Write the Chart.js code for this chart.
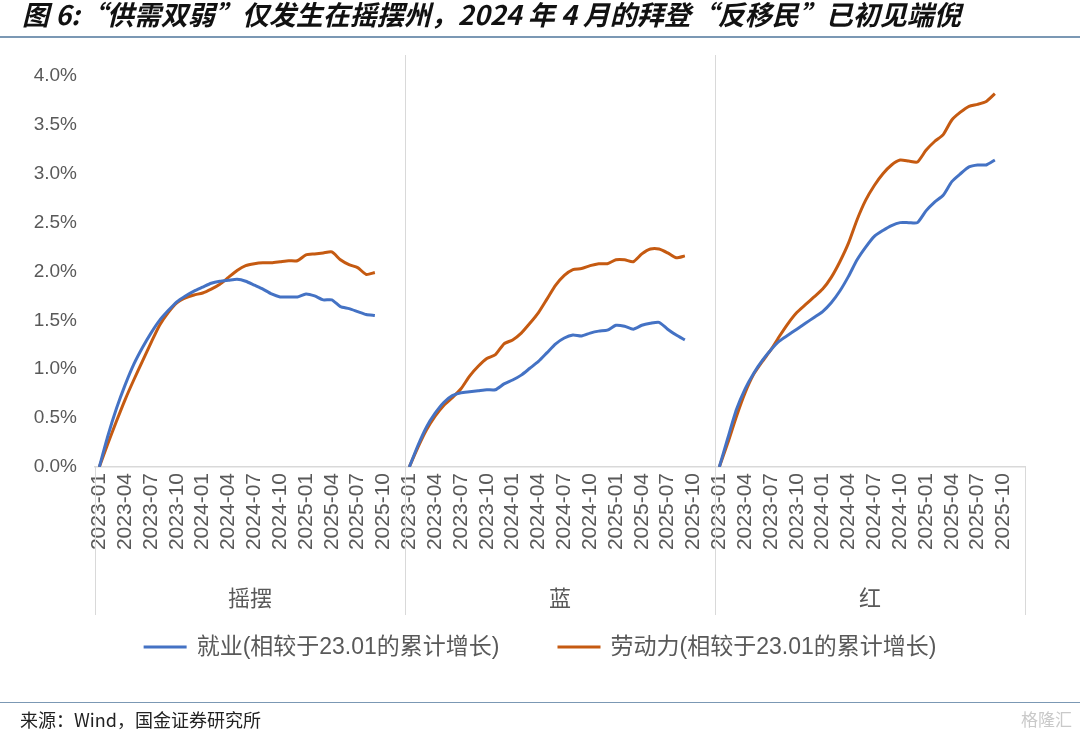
<!DOCTYPE html>
<html>
<head>
<meta charset="utf-8">
<script src="https://cdn.jsdelivr.net/npm/chart.js@4"></script>
<style>
  body { margin: 0; background: #fff; }
  #wrap { position: relative; width: 1080px; height: 733px; overflow: hidden; }
  #chart { position: absolute; left: 0; top: 0; }
  .title { position: absolute; left: 22px; top: 0; line-height: 28px; font: italic bold 27px "Noto Sans CJK SC", sans-serif; color: #111; white-space: nowrap; }
  .rule { position: absolute; left: 0; width: 1080px; height: 0; border-top: 2px solid #7b98b4; }
  .source { position: absolute; left: 20px; top: 706px; font: 18px "Noto Sans CJK SC", sans-serif; color: #222; }
  .mark { position: absolute; right: 8px; top: 706px; font: 17px "Noto Sans CJK SC", sans-serif; color: #c9c9c9; }
</style>
</head>
<body>
<div id="wrap">
  <canvas id="chart" width="1080" height="733"></canvas>
  <div class="title" style="line-height:28px">图 6:“供需双弱”仅发生在摇摆州，2024 年 4 月的拜登“反移民”已初见端倪</div>
  <div class="rule" style="top:36px"></div>
  <div class="rule" style="top:702px; border-top-width:1.5px"></div>
  <div class="source">来源：Wind，国金证券研究所</div>
  <div class="mark">格隆汇</div>
</div>
<script>
// month categories in each state group (2023-01 .. 2025-12)
const months = [
  '2023-01','2023-02','2023-03','2023-04','2023-05','2023-06','2023-07','2023-08','2023-09','2023-10','2023-11','2023-12',
  '2024-01','2024-02','2024-03','2024-04','2024-05','2024-06','2024-07','2024-08','2024-09','2024-10','2024-11','2024-12',
  '2025-01','2025-02','2025-03','2025-04','2025-05','2025-06','2025-07','2025-08','2025-09','2025-10','2025-11','2025-12'
];
const groups = ['摇摆', '蓝', '红'];
const yTicks = [0, 0.5, 1.0, 1.5, 2.0, 2.5, 3.0, 3.5, 4.0];

// cumulative growth vs 2023-01, %  (2023-01 .. 2025-09)
const swingEmp = [0, 0.32, 0.60, 0.84, 1.05, 1.22, 1.37, 1.50, 1.60, 1.69, 1.75, 1.80, 1.84, 1.88, 1.90, 1.91, 1.92,
  1.90, 1.86, 1.82, 1.77, 1.74, 1.74, 1.74, 1.77, 1.75, 1.71, 1.71, 1.64, 1.62, 1.59, 1.56, 1.55];
const swingLab = [0, 0.24, 0.47, 0.69, 0.89, 1.08, 1.27, 1.45, 1.58, 1.68, 1.73, 1.76, 1.78, 1.82, 1.87, 1.94, 2.01,
  2.06, 2.08, 2.09, 2.09, 2.10, 2.11, 2.11, 2.17, 2.18, 2.19, 2.20, 2.12, 2.07, 2.04, 1.97, 1.99];
const blueEmp = [0, 0.22, 0.41, 0.55, 0.66, 0.73, 0.76, 0.77, 0.78, 0.79, 0.79, 0.85, 0.89, 0.94, 1.01, 1.08, 1.17,
  1.26, 1.32, 1.35, 1.34, 1.37, 1.39, 1.40, 1.45, 1.44, 1.41, 1.45, 1.47, 1.48, 1.41, 1.35, 1.30];
const blueLab = [0, 0.20, 0.38, 0.52, 0.63, 0.71, 0.80, 0.93, 1.03, 1.11, 1.15, 1.26, 1.30, 1.37, 1.47, 1.58, 1.72,
  1.86, 1.96, 2.02, 2.03, 2.06, 2.08, 2.08, 2.12, 2.12, 2.10, 2.18, 2.23, 2.23, 2.19, 2.14, 2.16];
const redEmp = [0, 0.30, 0.59, 0.80, 0.96, 1.09, 1.20, 1.29, 1.35, 1.41, 1.47, 1.53, 1.59, 1.68, 1.80, 1.95, 2.12,
  2.25, 2.36, 2.42, 2.47, 2.50, 2.50, 2.50, 2.62, 2.71, 2.78, 2.92, 3.00, 3.07, 3.09, 3.09, 3.14];
const redLab = [0, 0.25, 0.52, 0.76, 0.95, 1.08, 1.20, 1.34, 1.47, 1.58, 1.66, 1.74, 1.82, 1.94, 2.10, 2.29, 2.53,
  2.73, 2.88, 3.00, 3.09, 3.14, 3.13, 3.12, 3.24, 3.33, 3.40, 3.55, 3.63, 3.69, 3.71, 3.74, 3.82];

const empLabel = '就业(相较于23.01的累计增长)';
const labLabel = '劳动力(相较于23.01的累计增长)';

// pad each group to the full month list so the line breaks between groups
function joinGroups(parts) {
  let out = [];
  parts.forEach(p => {
    out = out.concat(p);
    for (let i = p.length; i < months.length; i++) out.push(null);
  });
  return out;
}

const labels = [].concat(months, months, months);
const grey = '#595959';
const lineGrey = '#d9d9d9';

// group separators + legend
const decor = {
  id: 'decor',
  afterDraw(chart) {
    const ctx = chart.ctx;
    const x = chart.scales.x, x2 = chart.scales.x2;
    const n = months.length;
    const area = chart.chartArea;
    ctx.save();
    ctx.strokeStyle = lineGrey;
    ctx.lineWidth = 1;
    const bounds = [];
    for (let g = 1; g < groups.length; g++) {
      bounds.push((x.getPixelForValue(g * n - 1) + x.getPixelForValue(g * n)) / 2);
    }
    bounds.forEach(b => {
      ctx.beginPath();
      ctx.moveTo(Math.round(b) + 0.5, 55);
      ctx.lineTo(Math.round(b) + 0.5, x2.bottom);
      ctx.stroke();
    });
    [x.left, x.right].forEach(b => {
      ctx.beginPath();
      ctx.moveTo(Math.round(b) + 0.5, area.bottom);
      ctx.lineTo(Math.round(b) + 0.5, x2.bottom);
      ctx.stroke();
    });

    // legend
    ctx.font = '23px "Liberation Sans", "Noto Sans CJK SC", sans-serif';
    ctx.textBaseline = 'middle';
    const sw = 43, gap = 10, itemGap = 58, ly = 647;
    const items = chart.data.datasets.map(d => ({ text: d.label, color: d.borderColor, w: sw + gap + ctx.measureText(d.label).width }));
    const total = items.reduce((s, it) => s + it.w, 0) + itemGap * (items.length - 1);
    let lx = chart.width / 2 - total / 2;
    items.forEach(it => {
      ctx.strokeStyle = it.color;
      ctx.lineWidth = 3;
      ctx.beginPath();
      ctx.moveTo(lx, ly);
      ctx.lineTo(lx + sw, ly);
      ctx.stroke();
      ctx.fillStyle = grey;
      ctx.fillText(it.text, lx + sw + gap, ly + 1);
      lx += it.w + itemGap;
    });
    ctx.restore();
  }
};

Chart.defaults.font.family = '"Liberation Sans", "Noto Sans CJK SC", sans-serif';
Chart.defaults.color = grey;

new Chart(document.getElementById('chart'), {
  type: 'line',
  data: {
    labels: labels,
    datasets: [
      {
        label: empLabel,
        data: joinGroups([swingEmp, blueEmp, redEmp]),
        borderColor: '#4472C4',
        backgroundColor: '#4472C4',
        borderWidth: 3,
        pointRadius: 0,
        tension: 0.2
      },
      {
        label: labLabel,
        data: joinGroups([swingLab, blueLab, redLab]),
        borderColor: '#C55A11',
        backgroundColor: '#C55A11',
        borderWidth: 3,
        pointRadius: 0,
        tension: 0.2
      }
    ]
  },
  options: {
    responsive: false,
    animation: false,
    layout: { padding: { left: 0, right: 55, top: 76, bottom: 118 } },
    plugins: {
      legend: { display: false },
      tooltip: { enabled: false }
    },
    scales: {
      x: {
        type: 'category',
        offset: true,
        grid: { display: false, drawTicks: false },
        border: { display: true, color: lineGrey, width: 1.5 },
        afterFit: s => { s.height = 110; },
        ticks: {
          autoSkip: false,
          minRotation: 90,
          maxRotation: 90,
          padding: 6,
          font: { size: 21 },
          color: grey,
          callback: function (v, i) { return i % 3 === 0 ? this.getLabelForValue(v) : ''; }
        }
      },
      x2: {
        type: 'category',
        labels: groups,
        position: 'bottom',
        weight: 1,
        offset: true,
        grid: { display: false, drawTicks: false },
        border: { display: false },
        afterFit: s => { s.height = 38; },
        ticks: { padding: 10, font: { size: 22 }, color: grey }
      },
      y: {
        min: 0,
        max: 4,
        afterFit: s => { s.width = 95; },
        afterBuildTicks: s => { s.ticks = yTicks.map(v => ({ value: v })); },
        grid: { display: false, drawTicks: false },
        border: { display: false },
        ticks: {
          padding: 18,
          font: { size: 19 },
          color: grey,
          callback: v => v.toFixed(1) + '%'
        }
      }
    }
  },
  plugins: [decor]
});
</script>
</body>
</html>
